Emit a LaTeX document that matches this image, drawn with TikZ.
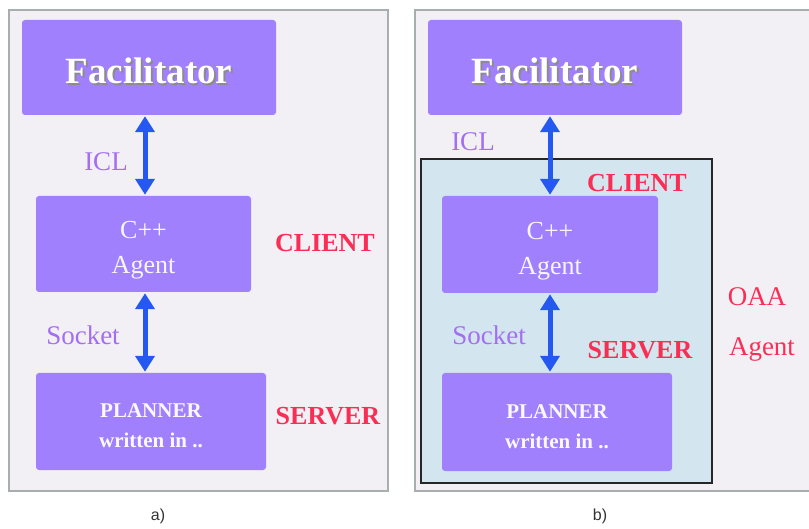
\documentclass[tikz,border=0pt]{standalone}
\usepackage{fontspec}
\setmainfont{Liberation Serif}
\setsansfont{Liberation Sans}
\usetikzlibrary{arrows.meta}
\definecolor{boxp}{HTML}{A080FC}
\definecolor{panel}{HTML}{F2F0F5}
\definecolor{panelb}{HTML}{A8AEAE}
\definecolor{inner}{HTML}{D3E6EF}
\definecolor{lblp}{HTML}{A36EF2}
\definecolor{lblr}{HTML}{FA2E55}
\definecolor{arrb}{HTML}{2558F0}
\newcommand\shtext[1]{\makebox[0pt][l]{\raisebox{-1.8pt}{\hspace{1.8pt}\textcolor{black!45}{#1}}}\textcolor{white}{#1}}
\tikzset{
  pbox/.style={fill=boxp, draw=none, rounded corners=3pt, inner sep=0pt, align=center, text=white},
  facbox/.style={pbox, minimum width=254pt, minimum height=95pt, font=\fontsize{37}{40}\selectfont\bfseries},
  agbox/.style={pbox, font=\fontsize{26}{35}\selectfont, text=white!92!boxp},
  plbox/.style={pbox, font=\fontsize{21}{30}\selectfont\bfseries, text=white!95!boxp},
  arr/.style={draw=arrb, line width=5pt, {Triangle[width=19pt,length=16pt]}-{Triangle[width=19pt,length=16pt]}, shorten <=1pt, shorten >=1pt},
  lblpur/.style={text=lblp, font=\fontsize{27}{30}\selectfont},
  lblred/.style={text=lblr, font=\fontsize{26}{30}\selectfont\bfseries},
  lblredr/.style={text=lblr, font=\fontsize{27}{30}\selectfont},
  captxt/.style={font=\sffamily\fontsize{16}{18}\selectfont, text=black!80},
}
\begin{document}
\begin{tikzpicture}[x=1pt,y=-1pt]
\useasboundingbox[fill=white] (0,0) rectangle (809,529);
% panels
\draw[fill=panel, draw=panelb, line width=1.5pt] (9,10) rectangle (388,491);
\draw[fill=panel, draw=panelb, line width=1.5pt] (415,10) rectangle (815,491);
\draw[fill=inner, draw=black!85, line width=2pt] (421,159) rectangle (712,483);
% panel a
\node[facbox] (fa) at (149,67.5) {\rule{0pt}{35pt}\shtext{Facilitator}};
\node[agbox, minimum width=215pt, minimum height=96pt] (ca) at (143.5,244) {\rule{0pt}{30pt}C++\\Agent};
\node[plbox, minimum width=230pt, minimum height=97pt] (pa) at (151,421.5) {\rule{0pt}{23pt}PLANNER\\written in ..};
\coordinate (xa) at (145,0);
\draw[arr] (fa.south -| xa) -- (ca.north -| xa);
\draw[arr] (ca.south -| xa) -- (pa.north -| xa);
\node[lblpur] (icla) at (106,162) {ICL};
\node[lblpur] (socka) at (83,335) {Socket};
\node[lblred] (clienta) at (325,243) {CLIENT};
\node[lblred] (servera) at (328,416) {SERVER};
\node[captxt] (capa) at (158,516) {a)};
% panel b
\node[facbox] (fb) at (555,67.5) {\rule{0pt}{35pt}\shtext{Facilitator}};
\node[agbox, minimum width=216pt, minimum height=97pt] (cb) at (550,244.5) {\rule{0pt}{30pt}C++\\Agent};
\node[plbox, minimum width=230pt, minimum height=98pt] (pb) at (557,422) {\rule{0pt}{23pt}PLANNER\\written in ..};
\coordinate (xb) at (550,0);
\draw[arr] (fb.south -| xb) -- (cb.north -| xb);
\draw[arr] (cb.south -| xb) -- (pb.north -| xb);
\node[lblpur] (iclb) at (473,142) {ICL};
\node[lblpur] (sockb) at (489,335) {Socket};
\node[lblred] (clientb) at (637,183) {CLIENT};
\node[lblred] (serverb) at (640,350) {SERVER};
\node[lblredr] (oaa) at (757,297) {OAA};
\node[lblredr] (agentb) at (762,350) {Agent};
\node[captxt] (capb) at (600,516) {b)};
\end{tikzpicture}
\end{document}
